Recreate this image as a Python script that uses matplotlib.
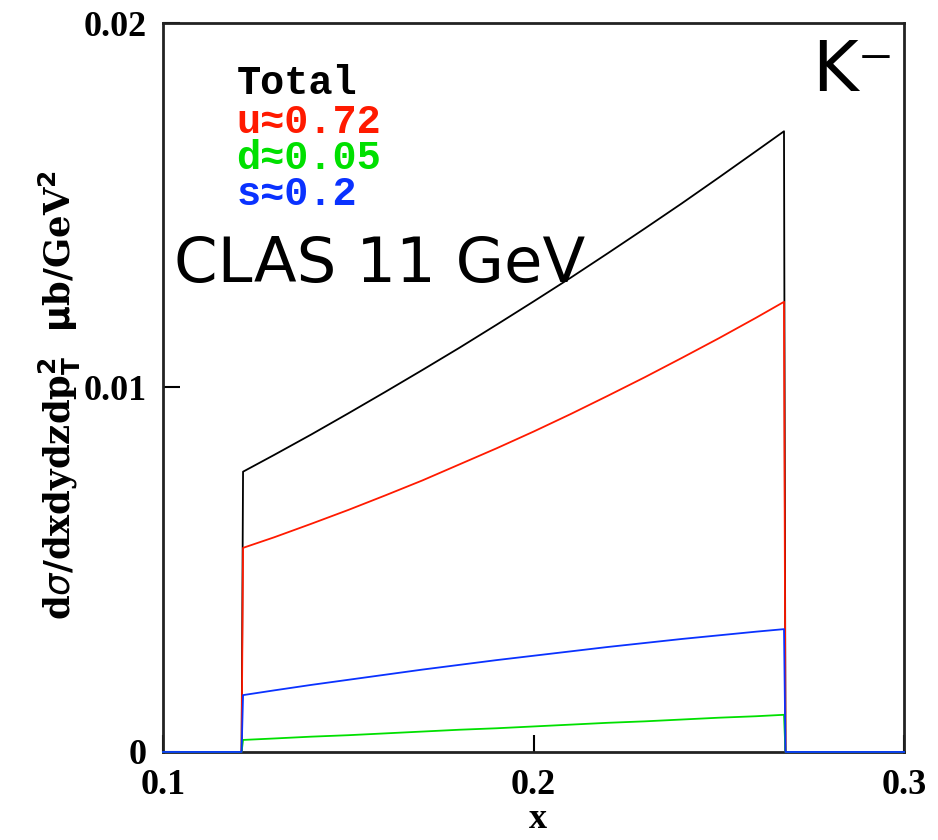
import matplotlib
matplotlib.use("Agg")
import matplotlib.pyplot as plt

# ---- data ----
x_pts = [0.100, 0.1212, 0.1216, 0.13, 0.14, 0.15, 0.16, 0.17, 0.18, 0.19, 0.20,
         0.21, 0.22, 0.23, 0.24, 0.25, 0.26, 0.2676, 0.2680, 0.300]
total = [0.0, 0.0, 0.00769, 0.00815, 0.00871, 0.00929, 0.00988, 0.01048, 0.01109, 0.01172, 0.01236,
         0.01301, 0.01368, 0.01436, 0.01505, 0.01576, 0.01648, 0.01703, 0.0, 0.0]
u_vals = [0.0, 0.0, 0.00560, 0.00589, 0.00626, 0.00664, 0.00704, 0.00745, 0.00789, 0.00833, 0.00879,
          0.00927, 0.00977, 0.01028, 0.01081, 0.01135, 0.01191, 0.01235, 0.0, 0.0]
d_vals = [0.0, 0.0, 0.00033, 0.00037, 0.00042, 0.00046, 0.00051, 0.00056, 0.00061, 0.00065, 0.00070,
          0.00075, 0.00080, 0.00084, 0.00089, 0.00094, 0.00098, 0.00102, 0.0, 0.0]
s_vals = [0.0, 0.0, 0.00156, 0.00169, 0.00184, 0.00198, 0.00212, 0.00226, 0.00239, 0.00252, 0.00264,
          0.00276, 0.00288, 0.00299, 0.00310, 0.00320, 0.00330, 0.00337, 0.0, 0.0]

x_ticks = [0.1, 0.2, 0.3]
x_ticklabels = ["0.1", "0.2", "0.3"]
y_ticks = [0.0, 0.01, 0.02]
y_ticklabels = ["0", "0.01", "0.02"]

legend_labels = ["Total", "u\u22480.72", "d\u22480.05", "s\u22480.2"]
colors = ["black", "#ff1a00", "#00e000", "#0a32ff"]

fig = plt.figure(figsize=(9.38, 8.4), dpi=100)
ax = fig.add_axes([0.1738, 0.1048, 0.79, 0.8678])

for vals, c in zip([total, u_vals, d_vals, s_vals], colors):
    ax.plot(x_pts, vals, color=c, lw=1.3, zorder=3, clip_on=False)

ax.set_xlim(0.1, 0.3)
ax.set_ylim(0.0, 0.02)
ax.set_xticks(x_ticks)
ax.set_xticklabels(x_ticklabels)
ax.set_yticks(y_ticks)
ax.set_yticklabels(y_ticklabels)
ax.tick_params(direction="in", length=12, width=1.5, pad=12)
for lab in ax.get_xticklabels() + ax.get_yticklabels():
    lab.set_fontfamily("Liberation Serif")
    lab.set_fontweight("bold")
    lab.set_fontsize(26)
for sp in ax.spines.values():
    sp.set_linewidth(2.0)
    sp.set_color("#222222")
    sp.set_zorder(2)

fig.text(0.5735, 0.025, "x", fontfamily="Liberation Serif", fontweight="bold",
         fontsize=26, ha="center", va="center")
fig.text(0.064, 0.53,
         r"d$\sigma$/dxdydzdp$_\mathbf{T}^\mathbf{2}$  $\mathbf{\mu}$b/GeV$^\mathbf{2}$",
         fontfamily="DejaVu Serif", fontweight="bold", fontsize=25.5,
         rotation=90, ha="center", va="center")

# legend as coloured text
y_rows = [0.901, 0.855, 0.812, 0.769]
for lab, c, yy in zip(legend_labels, colors, y_rows):
    fig.text(0.252, yy, lab, color=c, fontsize=29, fontweight="bold",
             family=["Liberation Mono", "DejaVu Sans Mono"], va="center", ha="left")

fig.text(0.185, 0.685, "CLAS 11 GeV", fontsize=45, family="DejaVu Sans", va="center", ha="left")
fig.text(0.866, 0.915, "K\u207b", fontsize=50, family="DejaVu Sans", va="center", ha="left")

fig.savefig("out.png", dpi=100, facecolor="white")
